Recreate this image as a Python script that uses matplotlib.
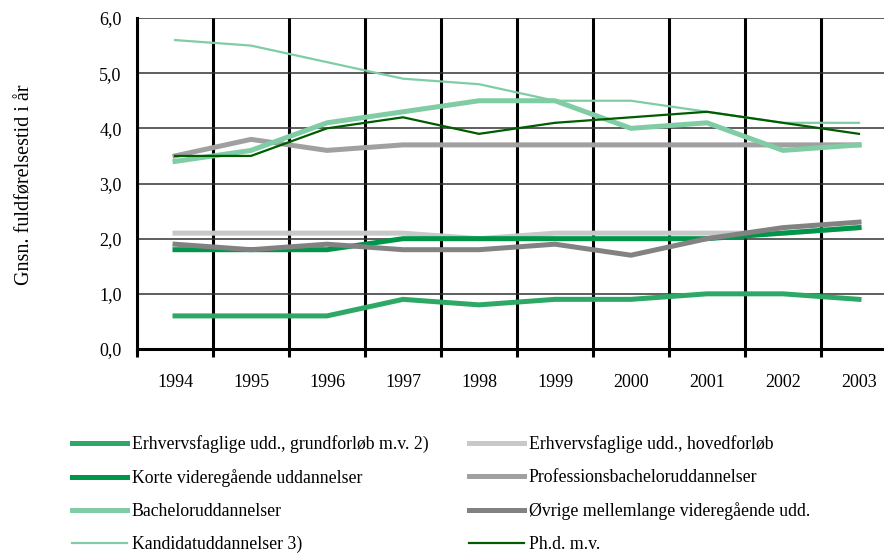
import matplotlib.pyplot as plt
import numpy as np

years = ['1994', '1995', '1996', '1997', '1998', '1999', '2000', '2001', '2002', '2003']

grundforloeb = [0.6, 0.6, 0.6, 0.9, 0.8, 0.9, 0.9, 1.0, 1.0, 0.9]
hovedforloeb = [2.1, 2.1, 2.1, 2.1, 2.0, 2.1, 2.1, 2.1, 2.1, 2.2]
korte = [1.8, 1.8, 1.8, 2.0, 2.0, 2.0, 2.0, 2.0, 2.1, 2.2]
professions = [3.5, 3.8, 3.6, 3.7, 3.7, 3.7, 3.7, 3.7, 3.7, 3.7]
bachelor = [3.4, 3.6, 4.1, 4.3, 4.5, 4.5, 4.0, 4.1, 3.6, 3.7]
oevrige = [1.9, 1.8, 1.9, 1.8, 1.8, 1.9, 1.7, 2.0, 2.2, 2.3]
kandidat = [5.6, 5.5, 5.2, 4.9, 4.8, 4.5, 4.5, 4.3, 4.1, 4.1]
phd = [3.5, 3.5, 4.0, 4.2, 3.9, 4.1, 4.2, 4.3, 4.1, 3.9]

plt.rcParams['font.family'] = ['Liberation Serif', 'DejaVu Serif']

fig = plt.figure(figsize=(8.84, 5.53), dpi=100)
ax = fig.add_axes([137 / 884, 1 - 349 / 553, 760 / 884, 331 / 553])

x = np.arange(len(years))
thick = 3.6
thin = 1.6
l1, = ax.plot(x, grundforloeb, color='#2ea866', lw=thick, label='Erhvervsfaglige udd., grundforløb m.v. 2)')
l2, = ax.plot(x, hovedforloeb, color='#c8c8c8', lw=thick, label='Erhvervsfaglige udd., hovedforløb')
l3, = ax.plot(x, korte, color='#00964a', lw=thick, label='Korte videregående uddannelser')
l4, = ax.plot(x, professions, color='#a0a0a0', lw=thick, label='Professionsbacheloruddannelser')
l5, = ax.plot(x, bachelor, color='#80cca4', lw=thick, label='Bacheloruddannelser')
l6, = ax.plot(x, oevrige, color='#828282', lw=thick, label='Øvrige mellemlange videregående udd.')
l7, = ax.plot(x, kandidat, color='#80cca4', lw=thin, label='Kandidatuddannelser 3)')
l8, = ax.plot(x, phd, color='#005c00', lw=thin, label='Ph.d. m.v.')

ax.set_xlim(-0.5, 9.5)
ax.set_ylim(0, 6)
ax.set_xticks(x)
ax.set_xticklabels(years)
ax.set_xticks(np.arange(-0.5, 10, 1), minor=True)
ax.set_yticks(np.arange(0, 6.1, 1))
ax.set_yticklabels([f'{v:.1f}'.replace('.', ',') for v in np.arange(0, 6.1, 1)])
ax.tick_params(axis='x', which='major', length=0, pad=18, labelsize=13)
ax.tick_params(axis='x', which='minor', length=6, width=2.2, color='black')
ax.tick_params(axis='y', length=0, pad=11, labelsize=13)
ax.grid(True, axis='x', which='minor', color='black', lw=2.2)
ax.grid(True, axis='y', which='major', color='#333333', lw=1.1)
ax.set_axisbelow(True)
for s in ['top', 'right']:
    ax.spines[s].set_visible(False)
ax.spines['left'].set_linewidth(2.2)
ax.spines['bottom'].set_linewidth(2.2)

fig.text(25 / 884, 1 - 185 / 553, 'Gnsn. fuldførelsestid i år', rotation=90,
         ha='center', va='center', fontsize=14.5)

fig.legend(handles=[l1, l3, l5, l7, l2, l4, l6, l8], ncol=2, loc='upper left',
           bbox_to_anchor=(72 / 884, 1 - 435 / 553), frameon=False, fontsize=12.8,
           borderpad=0, borderaxespad=0, handlelength=3.1, handletextpad=0.25,
           labelspacing=0.9, columnspacing=2.3)

fig.savefig('out.png', dpi=100)
